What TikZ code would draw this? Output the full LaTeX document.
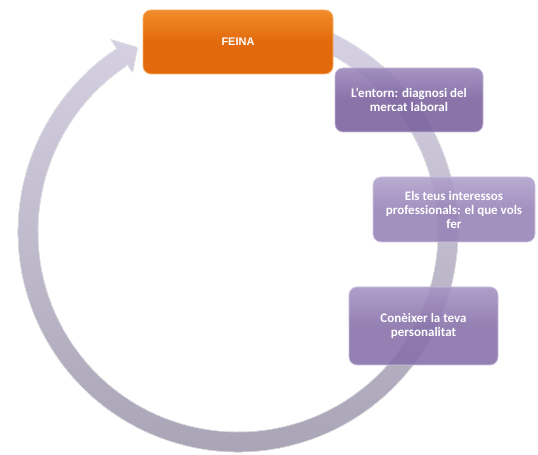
\documentclass[tikz,border=0pt]{standalone}
\usepackage{fontspec}
\setmainfont{Carlito}
\newfontfamily\arialfont{Liberation Sans}
\definecolor{ringtop}{RGB}{214,210,228}
\definecolor{ringbot}{RGB}{166,162,180}
\definecolor{orangetop}{RGB}{242,140,44}
\definecolor{orangebase}{RGB}{226,106,12}
\definecolor{purpletop}{RGB}{156,136,188}
\definecolor{purplebase}{RGB}{124,100,160}
\definecolor{lilactop}{RGB}{178,162,204}
\definecolor{lilacbase}{RGB}{152,132,184}
\definecolor{violettop}{RGB}{166,148,196}
\definecolor{violetbase}{RGB}{136,114,170}
\begin{document}
\begin{tikzpicture}[x=1pt,y=1pt,
  boxbase/.style={rectangle, rounded corners=8pt, text=white, align=center, inner sep=2pt},
  feinabox/.style={boxbase, top color=orangetop, bottom color=orangebase, middle color=orangebase,
    draw=orangetop!70!white, line width=0.8pt, font=\arialfont\bfseries\fontsize{11}{13}\selectfont},
  stepbox/.style={boxbase, fill opacity=0.9, text opacity=1, line width=0.8pt,
    font=\bfseries\fontsize{13}{14}\selectfont},
  ringshade/.style={top color=ringtop, bottom color=ringbot}
]
\useasboundingbox (0,0) rectangle (538,455);

% circular arrow
\begin{scope}[shift={(238,223)}]
  \fill[ringshade, draw=white!90!ringbot, line width=0.5pt]
    (72:220) arc[start angle=72, end angle=-236.5, radius=220]
    -- (-236.5:231) -- (-241.5:210) -- (-236.5:191)
    -- (-236.5:200) arc[start angle=-236.5, end angle=72, radius=200] -- cycle;
\end{scope}

\node[feinabox, minimum width=190pt, minimum height=64pt] (feina) at (238,413) {FEINA};

\node[stepbox, top color=purpletop, bottom color=purplebase, middle color=purplebase,
  draw=purpletop!60!white, minimum width=148pt, minimum height=64pt] (entorn) at (409,355)
  {L'entorn: diagnosi del\\mercat laboral};

\node[stepbox, top color=lilactop, bottom color=lilacbase, middle color=lilacbase,
  draw=lilactop!60!white, minimum width=162pt, minimum height=65pt] (interessos) at (454,245.5)
  {Els teus interessos\\professionals: el que vols\\fer};

\node[stepbox, top color=violettop, bottom color=violetbase, middle color=violetbase,
  draw=violettop!60!white, minimum width=149pt, minimum height=78pt] (personalitat) at (423.5,129)
  {Conèixer la teva\\personalitat};
\end{tikzpicture}
\end{document}
